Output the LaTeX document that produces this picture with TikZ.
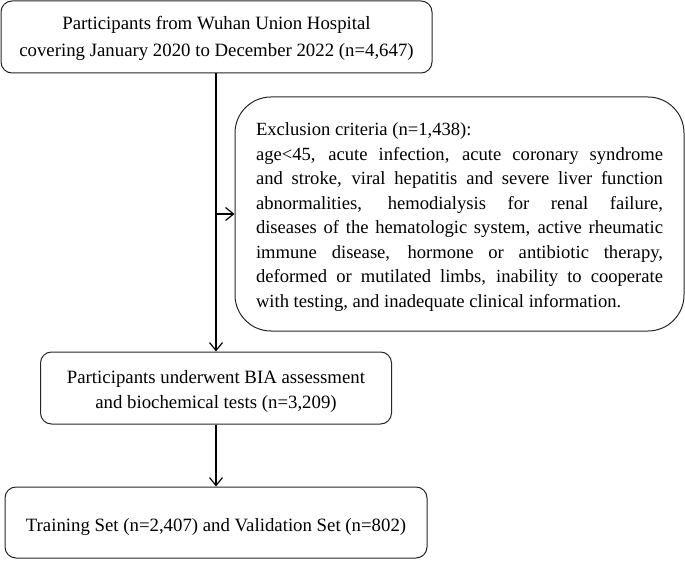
\documentclass[tikz,border=0pt]{standalone}
\usepackage{fontspec}
\setmainfont{Liberation Serif}
\usetikzlibrary{arrows.meta}
\newcommand{\boxtext}[3]{\raisebox{#1}[\height][\depth]{\fontsize{18.8}{#2}\selectfont\begin{tabular}{@{}c@{}}#3\end{tabular}}}
\begin{document}
\begin{tikzpicture}[x=1pt,y=-1pt,
  box/.style={draw=black!85, line width=1pt, rounded corners=11pt, inner sep=0pt, align=center,
    font=\fontsize{18.8}{25.5}\selectfont},
  arr/.style={line width=1.2pt, -{Straight Barb[length=8pt,width=13pt,line width=1.2pt]}}]
\useasboundingbox (0,0) rectangle (685,561);
\node[box, minimum width=431pt, minimum height=72pt] (b1) at (216.5,37)
  {\boxtext{-1pt}{27pt}{Participants from Wuhan Union Hospital\\covering January 2020 to December 2022 (n=4,647)}};
\node[box, rounded corners=36pt, minimum width=449pt, minimum height=234pt, align=justify,
  font=\fontsize{18.6}{24.5}\selectfont] (ex) at (459.5,214)
  {\raisebox{-3pt}[\height][\depth]{\parbox{407pt}{\hyphenpenalty=10000\parindent=0pt
  Exclusion criteria (n=1,438):\\
  age<45, acute infection, acute coronary syndrome\linebreak
  and stroke, viral hepatitis and severe liver function\linebreak
  abnormalities, hemodialysis for renal failure,\linebreak
  diseases of the hematologic system, active rheumatic\linebreak
  immune disease, hormone or antibiotic therapy,\linebreak
  deformed or mutilated limbs, inability to cooperate\linebreak
  with testing, and inadequate clinical information.}}};
\node[box, minimum width=351pt, minimum height=72pt] (b2) at (216,388)
  {\boxtext{-3pt}{25.5pt}{Participants underwent BIA assessment\\and biochemical tests (n=3,209)}};
\node[box, minimum width=422pt, minimum height=71pt] (b3) at (216,522.5)
  {\boxtext{-3.5pt}{25.5pt}{Training Set (n=2,407) and Validation Set (n=802)}};
\coordinate (top) at (216,73);
\draw[arr] (top) -- (top |- b2.north);
\coordinate (mid) at (top |- ex.west);
\draw[arr] (mid) -- (ex.west);
\draw[arr] (b2.south -| top) -- (top |- b3.north);
\end{tikzpicture}
\end{document}
